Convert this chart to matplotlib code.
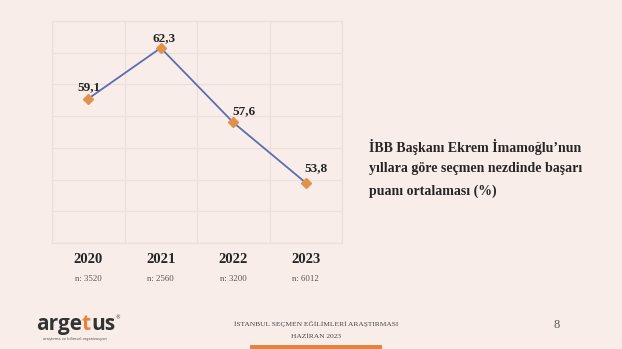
import matplotlib
matplotlib.use("Agg")
import matplotlib.pyplot as plt
from matplotlib.transforms import blended_transform_factory

# data
years = ["2020", "2021", "2022", "2023"]
sample_sizes = ["n: 3520", "n: 2560", "n: 3200", "n: 6012"]
scores = [59.1, 62.3, 57.6, 53.8]
value_labels = ["59,1", "62,3", "57,6", "53,8"]
title_lines = ["İBB Başkanı Ekrem İmamoğlu\u2019nun",
               "yıllara göre seçmen nezdinde başarı",
               "puanı ortalaması (%)"]
footer_lines = ["İSTANBUL SEÇMEN EĞİLİMLERİ ARAŞTIRMASI", "HAZİRAN 2023"]
page_no = "8"

BG = "#f9edea"
GRID = "#ebe0dd"
LINE = "#5b6eb0"
MARK = "#e0914c"
ORANGE = "#e8823a"
TXT = "#262626"
SERIF = ["Liberation Serif", "DejaVu Serif"]

fig = plt.figure(figsize=(6.22, 3.49), dpi=100, facecolor=BG)
ax = fig.add_axes([52 / 622, 1 - 243 / 349, 290 / 622, 222 / 349], facecolor=BG)

x = list(range(len(years)))
ax.plot(x, scores, color=LINE, lw=1.3, zorder=3)
ax.plot(x, scores, ls="none", marker="D", ms=5.5, color=MARK, zorder=4)

ax.set_xlim(-0.5, len(years) - 0.5)
ax.set_ylim(50, 64)
ax.set_yticks(range(50, 65, 2))
ax.set_xticks([i + 0.5 for i in range(-1, len(years))], minor=True)
ax.grid(True, axis="y", which="major", color=GRID, lw=0.9)
ax.grid(True, axis="x", which="minor", color=GRID, lw=0.9)
ax.tick_params(axis="y", left=False, labelleft=False)
ax.tick_params(axis="x", which="both", bottom=False)
for s in ax.spines.values():
    s.set_color(GRID)
    s.set_linewidth(0.9)

ax.set_xticks(x)
ax.set_xticklabels(years, fontfamily=SERIF, fontweight="bold", fontsize=10.5, color=TXT)
ax.tick_params(axis="x", which="major", pad=4)

trans = blended_transform_factory(ax.transData, ax.transAxes)
for xi, n in zip(x, sample_sizes):
    ax.text(xi, -0.163, n, transform=trans, ha="center", va="center",
            fontfamily=SERIF, fontsize=6.3, color="#555555")

# label offsets in points (label centre relative to the marker)
offsets = [(0.7, 8.6), (2.2, 7.2), (7.9, 7.9), (7.2, 10.8)]
for xi, v, lab, off in zip(x, scores, value_labels, offsets):
    ax.annotate(lab, (xi, v), xytext=off, textcoords="offset points",
                ha="center", va="center", fontfamily=SERIF, fontweight="bold",
                fontsize=9.5, color=TXT, zorder=5)

# title block to the right of the chart
for i, line in enumerate(title_lines):
    fig.text(369 / 622, 1 - (147 + 22 * i) / 349, line, ha="left", va="center",
             fontfamily=SERIF, fontweight="bold", fontsize=10, color=TXT)

# footer
fig.text(316 / 622, 1 - 324 / 349, footer_lines[0], ha="center", va="center",
         fontfamily=SERIF, fontsize=5.4, color="#444444")
fig.text(316 / 622, 1 - 336 / 349, footer_lines[1], ha="center", va="center",
         fontfamily=SERIF, fontsize=5.4, color="#444444")
fig.text(557 / 622, 1 - 325 / 349, page_no, ha="center", va="center",
         fontfamily=SERIF, fontsize=9, color="#555555")
fig.add_artist(plt.Rectangle((250 / 622, 0), 132 / 622, 4 / 349,
                             transform=fig.transFigure, color=ORANGE, lw=0))

# logo: "arge" + orange "t" + "us"
renderer = fig.canvas.get_renderer()
xpos = 36
for part, col in [("arge", "#333333"), ("t", ORANGE), ("us", "#333333")]:
    t = fig.text(xpos / 622, 1 - 330 / 349, part, ha="left", va="baseline",
                 fontfamily="Open Sans", fontweight="bold", fontsize=15, color=col)
    bb = t.get_window_extent(renderer)
    xpos += bb.width
fig.text(xpos / 622, 1 - 318 / 349, "®", ha="left", va="center",
         fontfamily="DejaVu Sans", fontsize=3.5, color="#333333")
fig.text(75 / 622, 1 - 339 / 349, "araştırma ve bilimsel organizasyon", ha="center",
         va="center", fontfamily="DejaVu Sans", fontsize=2.6, color="#555555")

fig.savefig("out.png", dpi=100, facecolor=BG)
